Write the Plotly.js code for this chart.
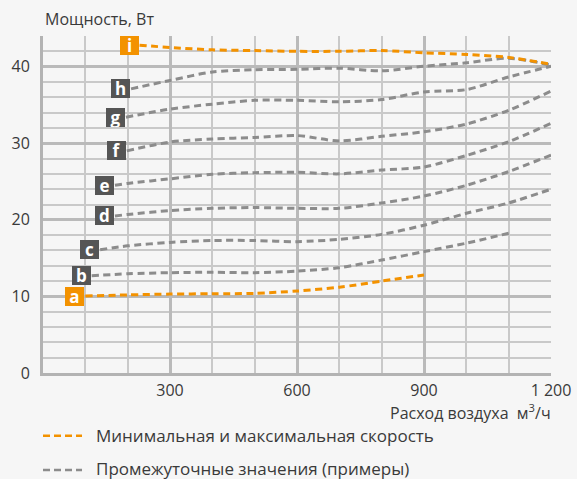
<!DOCTYPE html>
<html>
<head>
<meta charset="utf-8">
<script src="https://cdn.plot.ly/plotly-3.0.1.min.js"></script>
<style>
html,body{margin:0;padding:0;background:#f6f6f6;}
#chart{width:577px;height:479px;}
</style>
</head>
<body>
<div id="chart"></div>
<script>
// ---- data ----
const xA = [100,200,300,400,500,600,700,800,900];
const yA = [10.05,10.2,10.3,10.35,10.4,10.7,11.2,12.0,12.8];
const xB = [115,200,300,400,500,600,700,800,900,1000,1100];
const yB = [12.7,12.95,13.1,13.15,13.1,13.3,13.75,14.75,15.85,16.95,18.25];
const xC = [135,200,300,400,500,600,700,800,900,1000,1100,1200];
const yC = [16.1,16.6,17.05,17.3,17.3,17.15,17.45,18.1,19.3,20.85,22.2,24.0];
const xD = [170,200,300,400,500,600,700,800,900,1000,1100,1200];
const yD = [20.5,20.7,21.2,21.5,21.6,21.5,21.5,22.2,23.1,24.5,26.3,28.45];
const xE = [170,200,300,400,500,600,700,800,900,1000,1100,1200];
const yE = [24.5,24.75,25.35,25.95,26.15,26.2,26.0,26.5,26.9,28.4,30.2,32.6];
const xF = [198,300,400,500,600,700,800,900,1000,1100,1200];
const yF = [29.0,30.15,30.55,30.75,31.0,30.3,30.9,31.5,32.5,34.3,36.8];
const xG = [196,300,400,500,600,700,800,900,1000,1100,1200];
const yG = [33.4,34.45,35.1,35.6,35.6,35.4,35.7,36.7,37.0,38.65,40.05];
const xH = [208,300,400,500,600,700,800,900,1000,1100,1200];
const yH = [37.1,38.2,39.3,39.6,39.65,39.8,39.45,40.05,40.5,41.1,40.2];
const xI = [228,300,400,500,600,700,800,900,1000,1100,1200];
const yI = [42.8,42.5,42.2,42.1,42.0,42.0,42.1,41.8,41.6,41.2,40.3];

const xTickVals = [300,600,900,1200];
const xTickText = ['300','600','900','1 200'];
const yTickVals = [0,10,20,30,40];
const yTickText = ['0','10','20','30','40'];

const yTitle = 'Мощность, Вт';
const xTitle = 'Расход воздуха  м<sup>3</sup>/ч';
const legendNames = ['Минимальная и максимальная скорость','Промежуточные значения (примеры)'];

const curves = [
  {id:'b', x:xB, y:yB, kind:'mid'},
  {id:'c', x:xC, y:yC, kind:'mid'},
  {id:'d', x:xD, y:yD, kind:'mid'},
  {id:'e', x:xE, y:yE, kind:'mid'},
  {id:'f', x:xF, y:yF, kind:'mid'},
  {id:'g', x:xG, y:yG, kind:'mid'},
  {id:'h', x:xH, y:yH, kind:'mid'},
  {id:'a', x:xA, y:yA, kind:'minmax'},
  {id:'i', x:xI, y:yI, kind:'minmax'}
];

// ---- style ----
const ORANGE = '#f39200';
const GRAY = '#8c8c8c';
const BOX = '#555555';
const TXT = '#3a3a3a';
const FONT = 'Open Sans, sans-serif';

const traces = curves.map(c => ({
  type:'scatter', mode:'lines', x:c.x, y:c.y, showlegend:false, hoverinfo:'skip',
  line:{color: c.kind==='minmax'?ORANGE:GRAY, width:3, dash:'7px,4.5px', shape:'spline', smoothing:0.8}
}));

const annotations = curves.map(c => ({
  x:c.x[0], y:c.y[0], xref:'x', yref:'y', xanchor:'right', yanchor:'middle',
  xshift:-1, showarrow:false, text:c.id,
  font:{family:FONT, size:17, color:'#ffffff', weight:'bold'},
  bgcolor: c.kind==='minmax'?ORANGE:BOX, borderpad:0, borderwidth:0, width:19, height:19
}));

annotations.push({xref:'paper', yref:'paper', x:0, y:1.0504, xanchor:'left', yanchor:'middle',
  showarrow:false, text:yTitle, font:{family:FONT, size:16, color:TXT}});
annotations.push({xref:'paper', yref:'paper', x:1.004, y:-0.117, xanchor:'right', yanchor:'middle',
  showarrow:false, text:xTitle, font:{family:FONT, size:16, color:TXT}});
annotations.push({xref:'paper', yref:'paper', x:0.1004, y:-0.186, xanchor:'left', yanchor:'middle',
  showarrow:false, text:legendNames[0], font:{family:FONT, size:17, color:TXT}});
annotations.push({xref:'paper', yref:'paper', x:0.1004, y:-0.284, xanchor:'left', yanchor:'middle',
  showarrow:false, text:legendNames[1], font:{family:FONT, size:17, color:TXT}});

const shapes = [
  {type:'line', xref:'paper', yref:'paper', x0:0, x1:0.0768, y0:-0.186, y1:-0.186,
   line:{color:ORANGE, width:2.5, dash:'7px,4px'}},
  {type:'line', xref:'paper', yref:'paper', x0:0, x1:0.0768, y0:-0.288, y1:-0.288,
   line:{color:GRAY, width:2.5, dash:'7px,4px'}}
];

const layout = {
  width:577, height:479,
  margin:{l:43, r:26, t:36, b:106},
  paper_bgcolor:'#f6f6f6', plot_bgcolor:'#f6f6f6',
  font:{family:FONT, color:TXT},
  showlegend:false,
  xaxis:{
    range:[0,1200], tickmode:'array', tickvals:xTickVals, ticktext:xTickText,
    showgrid:true, gridcolor:'#bababa', gridwidth:3,
    minor:{tick0:0, dtick:100, showgrid:true, gridcolor:'#c9c9c9', gridwidth:2, ticks:''},
    showline:true, linecolor:'#b3b3b3', linewidth:3, zeroline:false, ticks:'',
    ticklabelstandoff:1,
    tickfont:{family:FONT, size:16, color:TXT}, fixedrange:true
  },
  yaxis:{
    range:[0,44], tickmode:'array', tickvals:yTickVals, ticktext:yTickText,
    showgrid:true, gridcolor:'#bababa', gridwidth:3,
    minor:{tick0:0, dtick:2, showgrid:true, gridcolor:'#c9c9c9', gridwidth:2, ticks:''},
    showline:true, linecolor:'#b3b3b3', linewidth:3, zeroline:false, ticks:'',
    ticklabelstandoff:7,
    tickfont:{family:FONT, size:16, color:TXT}, fixedrange:true
  },
  annotations:annotations,
  shapes:shapes
};

Plotly.newPlot('chart', traces, layout, {displayModeBar:false, staticPlot:true});
</script>
</body>
</html>
